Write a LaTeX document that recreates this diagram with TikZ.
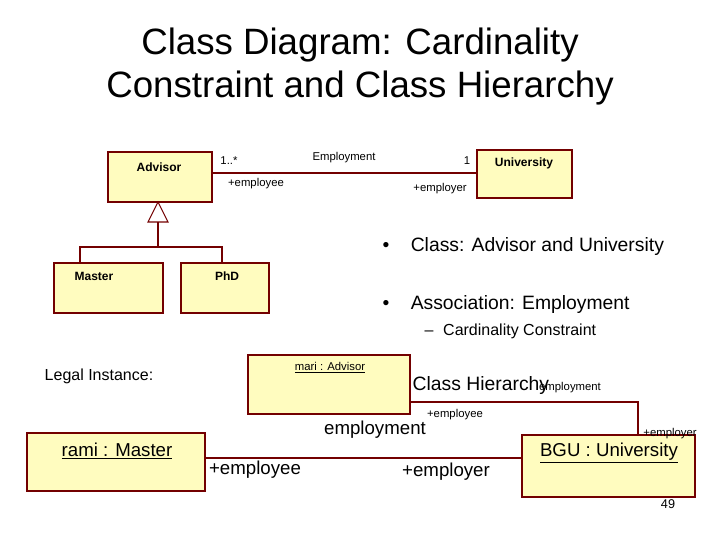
\documentclass[tikz,border=0pt]{standalone}
\usepackage{fontspec}
\setmainfont{Liberation Sans}
\begin{document}
\begin{tikzpicture}[x=0.75pt,y=-0.75pt,
  cls/.style={draw=red!45!black,fill=yellow!25,line width=0.8pt},
  ln/.style={draw=red!45!black,line width=0.8pt},
  sm/.style={font=\fontsize{8.5}{9}\selectfont,inner sep=1pt},
  bd/.style={font=\bfseries\fontsize{9}{10}\selectfont,inner sep=1pt},
  big/.style={font=\fontsize{14}{15}\selectfont,inner sep=1pt}]
\useasboundingbox (0,0) rectangle (720,540);
\node (t1) at (360,45) {\fontsize{27.5}{30}\selectfont Class Diagram: Cardinality};
\node (t2) at (360,88) {\fontsize{27.5}{30}\selectfont Constraint and Class Hierarchy};
% class diagram
\draw[cls] (108,152) rectangle (212,202);
\node[bd] (adv) at (159,167) {Advisor};
\draw[cls] (477,150) rectangle (572,198);
\node[bd] (uni) at (524,163) {University};
\draw[cls] (54,263) rectangle (163,313);
\node[bd] (mas) at (94,276) {Master};
\draw[cls] (181,263) rectangle (269,313);
\node[bd] (phd) at (227,276) {PhD};
\coordinate (a1) at (212,173); \coordinate (a2) at (477,173);
\draw[ln] (a1) -- (a2);
\node[sm] (m1) at (229,161) {1..*};
\node[sm] (m2) at (467,161) {1};
\node[sm] (asn) at (344,158) {Employment};
\node[sm] (r1) at (256,184) {+employee};
\node[sm] (r2) at (440,189) {+employer};
\coordinate (tp) at (158,202); \coordinate (tb) at (158,222);
\draw[ln] (tp) -- (148,222) -- (168,222) -- cycle;
\draw[ln] (tb) -- (158,247);
\draw[ln] (80,263) -- (80,247) -- (222,247) -- (222,263);
% bullets
\node[anchor=west,font=\fontsize{14.5}{15}\selectfont] (b1) at (378,246) {\textbullet\hspace{1.1em}Class: Advisor and University};
\node[anchor=west,font=\fontsize{14.5}{15}\selectfont] (b2) at (378,304) {\textbullet\hspace{1.1em}Association: Employment};
\node[anchor=west,font=\fontsize{12}{13}\selectfont] (b3) at (420,331) {--\hspace{0.6em}Cardinality Constraint};
\node[anchor=west,font=\fontsize{12}{13}\selectfont] (li) at (40,376) {Legal Instance:};
% instance diagram
\draw[cls] (248,355) rectangle (410,414);
\node[sm] (mari) at (330,368) {\underline{mari : Advisor}};
\draw[cls] (27,433) rectangle (205,491);
\node[big] (rami) at (117,451) {\underline{rami : Master}};
\draw[cls] (522,435) rectangle (695,497);
\node[big] (bgu) at (609,453) {\underline{BGU : University}};
\draw[ln] (410,402) -- (638,402) -- (638,435);
\draw[ln] (205,458) -- (522,458);
\node[anchor=west,font=\fontsize{14.5}{15}\selectfont] (b4) at (408,385) {Class Hierarchy};
\node[sm] (e1) at (570,388) {employment};
\node[sm] (e2) at (455,415) {+employee};
\node[sm] (e3) at (670,434) {+employer};
\node[big] (e4) at (375,430) {employment};
\node[big] (e5) at (255,470) {+employee};
\node[big] (e6) at (446,472) {+employer};
\node[font=\fontsize{9.5}{11}\selectfont] (pg) at (668,504) {49};
\end{tikzpicture}
\end{document}
